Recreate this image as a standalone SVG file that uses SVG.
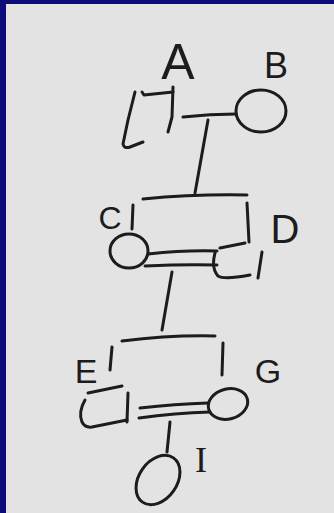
<svg xmlns="http://www.w3.org/2000/svg" width="334" height="513" viewBox="0 0 334 513">
  <defs>
    <style>
      .ink { fill: none; stroke: #1c1c1c; stroke-width: 3; stroke-linecap: round; stroke-linejoin: round; }
      .lbl { font-family: "Liberation Sans", Arial, sans-serif; fill: #1c1c1c; text-anchor: middle; }
      .lbl-serif { font-family: "Liberation Serif", "Times New Roman", serif; fill: #1c1c1c; text-anchor: middle; }
    </style>
  </defs>
  <rect x="0" y="0" width="334" height="513" fill="#0b0b7a"/>
  <rect x="6" y="4" width="328" height="509" fill="#e3e3e3"/>

  <g id="connectors" class="ink">
    <path d="M183,117 Q210,114 236,114"/>
    <path d="M208,120 L195,193"/>
    <path d="M143,199 Q195,194 247,195"/>
    <path d="M133,205 L132,229"/>
    <path d="M247,203 L249,242"/>
    <path d="M148,254 Q185,250 217,251"/>
    <path d="M145,266 Q185,264 217,265"/>
    <path d="M172,272 L162,330"/>
    <path d="M122,341 Q170,335 215,336"/>
    <path d="M112,347 L110,370"/>
    <path d="M223,343 L222,375"/>
    <path d="M140,408 Q175,404 208,403"/>
    <path d="M139,418 Q175,413 210,412"/>
    <path d="M170,422 L167,452"/>
  </g>

  <g id="node-A">
    <path class="ink" d="M135,92 L128,120 L123,144 Q124,149 130,147 L143,142"/>
    <path class="ink" d="M142,92 L144,95 L173,92"/>
    <path class="ink" d="M173,87 L172,117 L168,132"/>
    <text class="lbl" x="178" y="79" font-size="50">A</text>
  </g>

  <g id="node-B">
    <ellipse class="ink" cx="261" cy="111" rx="25" ry="21"/>
    <text class="lbl" x="276" y="78" font-size="36">B</text>
  </g>

  <g id="node-C">
    <ellipse class="ink" cx="129" cy="251" rx="19" ry="17"/>
    <text class="lbl" x="110" y="229" font-size="32">C</text>
  </g>

  <g id="node-D">
    <path class="ink" d="M220,248 L245,243"/>
    <path class="ink" d="M215,253 Q211,268 218,276 Q224,280 250,275"/>
    <path class="ink" d="M262,252 L258,278"/>
    <text class="lbl" x="285" y="243" font-size="40">D</text>
  </g>

  <g id="node-E">
    <path class="ink" d="M88,393 L122,386"/>
    <path class="ink" d="M85,400 Q78,412 82,422 Q85,428 92,427 L127,420"/>
    <path class="ink" d="M128,393 L127,422"/>
    <text class="lbl" x="86" y="383" font-size="34">E</text>
  </g>

  <g id="node-G">
    <ellipse class="ink" cx="228" cy="404" rx="20" ry="15" transform="rotate(-15 228 404)"/>
    <text class="lbl" x="268" y="383" font-size="34">G</text>
  </g>

  <g id="node-I">
    <ellipse class="ink" cx="158" cy="480" rx="27" ry="19" transform="rotate(-55 158 480)"/>
    <text class="lbl-serif" x="201" y="472" font-size="36">I</text>
  </g>
</svg>
